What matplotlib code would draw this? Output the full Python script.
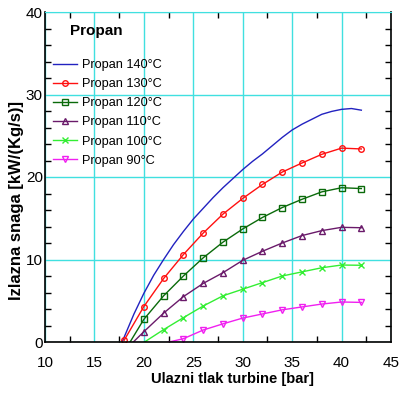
import matplotlib
matplotlib.use("Agg")
import matplotlib.pyplot as plt
from matplotlib.ticker import MultipleLocator
from matplotlib import font_manager

# ---------------- data ----------------
pressure140 = [17.8, 19, 20, 21, 22, 23, 24, 25, 26, 27, 28, 29, 30, 31, 32, 33,
               34, 35, 36, 37, 38, 39, 40, 41, 42]
p140 = [0.0, 3.4, 5.9, 8.1, 10.0, 11.8, 13.4, 14.9, 16.2, 17.5, 18.7, 19.8, 20.9,
        21.9, 22.8, 23.8, 24.8, 25.7, 26.4, 27.0, 27.6, 27.95, 28.2, 28.3, 28.1]

pressure = [18, 20, 22, 24, 26, 28, 30, 32, 34, 36, 38, 40, 42]
p130 = [0.2, 4.3, 7.7, 10.6, 13.2, 15.5, 17.4, 19.1, 20.6, 21.7, 22.75, 23.5, 23.4]
p120 = [-1.2, 2.75, 5.6, 8.0, 10.2, 12.1, 13.7, 15.1, 16.3, 17.3, 18.2, 18.7, 18.6]
p110 = [-1.1, 1.25, 3.5, 5.5, 7.1, 8.4, 9.9, 11.0, 12.0, 12.9, 13.5, 13.9, 13.85]
pressure100 = [20, 22, 24, 26, 28, 30, 32, 34, 36, 38, 40, 42]
p100 = [-0.05, 1.5, 2.95, 4.36, 5.6, 6.4, 7.2, 8.0, 8.5, 9.0, 9.33, 9.3]
pressure90 = [22, 24, 26, 28, 30, 32, 34, 36, 38, 40, 42]
p90 = [-0.15, 0.4, 1.45, 2.2, 2.9, 3.4, 3.9, 4.25, 4.6, 4.85, 4.8]

labels = ["Propan 140°C", "Propan 130°C", "Propan 120°C",
          "Propan 110°C", "Propan 100°C", "Propan 90°C"]
legend_title = "Propan"
xlabel = "Ulazni tlak turbine [bar]"
ylabel = "Izlazna snaga [kW/(Kg/s)]"
xticks = [10, 15, 20, 25, 30, 35, 40, 45]
yticks = [0, 10, 20, 30, 40]

# ---------------- fonts ----------------
names = {f.name for f in font_manager.fontManager.ttflist}
narrow = "Liberation Sans Narrow" if "Liberation Sans Narrow" in names else "Liberation Sans"
plt.rcParams["font.family"] = ["Liberation Sans", "DejaVu Sans"]

W, H = 414, 393
fig = plt.figure(figsize=(W / 100, H / 100), dpi=100)
L, R, T, B = 45, 391, 12, 342
ax = fig.add_axes([L / W, 1 - B / H, (R - L) / W, (B - T) / H])

grid_c = "#40E0E0"
ax.set_xlim(10, 45)
ax.set_ylim(0, 40)
ax.set_xticks(xticks)
ax.set_yticks(yticks)
ax.xaxis.set_minor_locator(MultipleLocator(2.5))
ax.yaxis.set_minor_locator(MultipleLocator(2))
ax.grid(True, which="major", color=grid_c, linewidth=1.0)
ax.set_axisbelow(True)
ax.tick_params(which="both", direction="in", top=True, right=True, colors="black")
ax.tick_params(which="major", length=0)
ax.tick_params(axis="x", which="major", pad=10)
ax.tick_params(axis="y", which="major", pad=1.5)
ax.tick_params(which="minor", length=4, width=1)
for lab in ax.get_xticklabels() + ax.get_yticklabels():
    lab.set_fontfamily(narrow)
    lab.set_fontsize(11)
ax.spines["top"].set_color(grid_c)
for s in ["left", "bottom", "right"]:
    ax.spines[s].set_color("black")
    ax.spines[s].set_linewidth(1.2)

def pos_idx(vals):
    return [i for i, v in enumerate(vals) if v > 0]

lw = 1.0
ax.plot(pressure140, p140, color="#2222C0", lw=lw, label=labels[0])
ax.plot(pressure, p130, color="#FF1010", lw=lw, marker="o", ms=4, mfc="none",
        mew=1.0, markevery=pos_idx(p130), label=labels[1])
ax.plot(pressure, p120, color="#0A6A0A", lw=lw, marker="s", ms=5, mfc="none",
        mew=1.0, markevery=pos_idx(p120), label=labels[2])
ax.plot(pressure, p110, color="#6A1A6A", lw=lw, marker="^", ms=5, mfc="none",
        mew=1.0, markevery=pos_idx(p110), label=labels[3])
ax.plot(pressure100, p100, color="#33EE33", lw=lw, marker="x", ms=4.5,
        mew=1.0, markevery=pos_idx(p100), label=labels[4])
ax.plot(pressure90, p90, color="#F020F0", lw=lw, marker="v", ms=5, mfc="none",
        mew=1.0, markevery=pos_idx(p90), label=labels[5])

leg = ax.legend(loc="upper left", bbox_to_anchor=((53 - L) / (R - L), (B - 59) / (B - T)),
                frameon=False, fontsize=9.2, handlelength=1.9, handletextpad=0.4,
                labelspacing=0.56, borderpad=0, borderaxespad=0)

fig.text(70 / W, 1 - 31 / H, legend_title, fontsize=11, fontweight="bold",
         ha="left", va="center")
fig.text(233 / W, 1 - 379 / H, xlabel, fontsize=10.6, fontweight="bold",
         ha="center", va="center")
fig.text(17 / W, 1 - 201 / H, ylabel, fontsize=12, fontweight="bold",
         ha="center", va="center", rotation=90)

fig.savefig("out.png", dpi=100)
